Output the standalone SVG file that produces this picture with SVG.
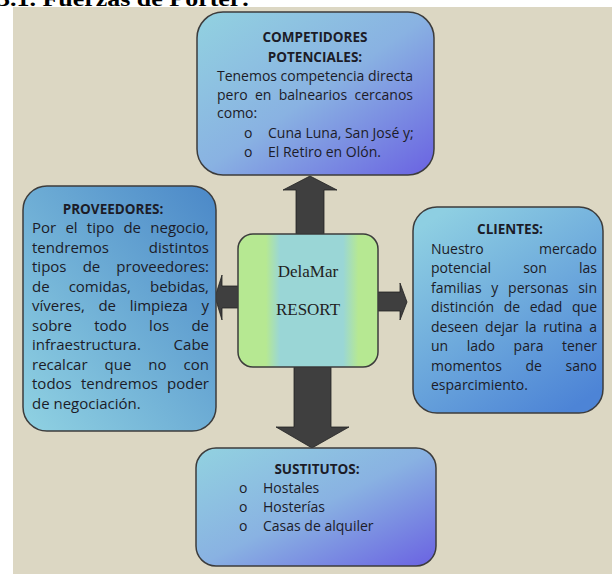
<svg xmlns="http://www.w3.org/2000/svg" width="612" height="574" viewBox="0 0 612 574">
<defs>
<linearGradient id="gPurple" x1="0" y1="0" x2="1" y2="1">
<stop offset="0" stop-color="#92d2e0"/>
<stop offset="0.5" stop-color="#89b2e2"/>
<stop offset="1" stop-color="#6a62e2"/>
</linearGradient>
<linearGradient id="gLeft" x1="0" y1="1" x2="1" y2="0">
<stop offset="0" stop-color="#90d2e2"/>
<stop offset="1" stop-color="#4b88c8"/>
</linearGradient>
<linearGradient id="gRight" x1="0.2" y1="0" x2="0.8" y2="1">
<stop offset="0" stop-color="#8ecfe2"/>
<stop offset="1" stop-color="#4d84d6"/>
</linearGradient>
<linearGradient id="gCenter" x1="0" y1="0" x2="1" y2="0">
<stop offset="0" stop-color="#b6e892"/>
<stop offset="0.2" stop-color="#b6e892"/>
<stop offset="0.3" stop-color="#9ad6d6"/>
<stop offset="0.75" stop-color="#9ad6d6"/>
<stop offset="0.86" stop-color="#b6e892"/>
<stop offset="1" stop-color="#b6e892"/>
</linearGradient>
</defs>
<style>
.box{stroke:#3c3c3c;stroke-width:1.5}
.t{font-family:"Open Sans","Liberation Sans",sans-serif;font-size:14px;fill:#1c1c28}
.l{font-size:15px}
.b{font-weight:bold;text-anchor:middle;font-size:13.5px}
.arrow{fill:#3f3f3f;stroke:#222;stroke-width:0.8}
.logo{font-family:"Liberation Serif",serif;font-size:17px;fill:#222;text-anchor:middle}
</style>
<rect x="0" y="0" width="612" height="574" fill="#ffffff"/>
<rect x="13" y="7" width="599" height="567" fill="#dcd7c3"/>
<text x="-3" y="6" font-family="Liberation Serif,serif" font-weight="bold" font-size="22" textLength="253" lengthAdjust="spacingAndGlyphs" fill="#000">3.1. Fuerzas de Porter:</text>

<g id="connectors">
<polygon class="arrow" points="296,234 296,190 283,190 310,176 337,190 324,190 324,234"/>
<polygon class="arrow" points="294,367 294,427 276,427 312,448 349,427 331,427 331,367"/>
<polygon class="arrow" points="239,286 222,286 222,275 215,297 222,320 222,308 239,308"/>
<polygon class="arrow" points="377,292 400,292 400,283 407,302 400,320 400,311 377,311"/>
</g>

<g id="competidores">
<rect class="box" x="197" y="12" width="237" height="163" rx="26" fill="url(#gPurple)"/>
<text class="t b" x="315" y="42">COMPETIDORES</text>
<text class="t b" x="315" y="61.5">POTENCIALES:</text>
<text class="t" x="217" y="80.5" textLength="196" lengthAdjust="spacing">Tenemos competencia directa</text>
<text class="t" x="217" y="99.5" word-spacing="3.7" textLength="196" lengthAdjust="spacing">pero en balnearios cercanos</text>
<text class="t" x="217" y="118">como:</text>
<text class="t" x="244" y="137.5">o</text>
<text class="t" x="268" y="137.5">Cuna Luna, San José y;</text>
<text class="t" x="244" y="157">o</text>
<text class="t" x="268" y="157">El Retiro en Olón.</text>
</g>

<g id="proveedores">
<rect class="box" x="23" y="186" width="193" height="245" rx="24" fill="url(#gLeft)"/>
<text class="t b" x="113" y="213.5" font-size="14.5">PROVEEDORES:</text>
<text class="t l" x="32" y="233" word-spacing="5.3" textLength="177" lengthAdjust="spacing">Por el tipo de negocio,</text>
<text class="t l" x="32" y="252.5" word-spacing="36" textLength="177" lengthAdjust="spacing">tendremos distintos</text>
<text class="t l" x="32" y="272" word-spacing="12.2" textLength="177" lengthAdjust="spacing">tipos de proveedores:</text>
<text class="t l" x="32" y="291.5" word-spacing="15.2" textLength="177" lengthAdjust="spacing">de comidas, bebidas,</text>
<text class="t l" x="32" y="311" word-spacing="9.7" textLength="177" lengthAdjust="spacing">víveres, de limpieza y</text>
<text class="t l" x="32" y="330.5" word-spacing="18.4" textLength="177" lengthAdjust="spacing">sobre todo los de</text>
<text class="t l" x="32" y="350" word-spacing="28.9" textLength="177" lengthAdjust="spacing">infraestructura. Cabe</text>
<text class="t l" x="32" y="369.5" word-spacing="13.1" textLength="177" lengthAdjust="spacing">recalcar que no con</text>
<text class="t l" x="32" y="389" word-spacing="5.3" textLength="177" lengthAdjust="spacing">todos tendremos poder</text>
<text class="t l" x="32" y="408.5">de negociación.</text>
</g>

<g id="clientes">
<rect class="box" x="413" y="207" width="190" height="206" rx="24" fill="url(#gRight)"/>
<text class="t b" x="510" y="234">CLIENTES:</text>
<text class="t" x="431" y="253.5" word-spacing="51.8" textLength="166" lengthAdjust="spacing">Nuestro mercado</text>
<text class="t" x="431" y="273" word-spacing="28.5" textLength="166" lengthAdjust="spacing">potencial son las</text>
<text class="t" x="431" y="292.5" word-spacing="6.1" textLength="166" lengthAdjust="spacing">familias y personas sin</text>
<text class="t" x="431" y="312" word-spacing="5.9" textLength="166" lengthAdjust="spacing">distinción de edad que</text>
<text class="t" x="431" y="331.5" word-spacing="3.1" textLength="166" lengthAdjust="spacing">deseen dejar la rutina a</text>
<text class="t" x="431" y="351" word-spacing="14.9" textLength="166" lengthAdjust="spacing">un lado para tener</text>
<text class="t" x="431" y="370.5" word-spacing="19.9" textLength="166" lengthAdjust="spacing">momentos de sano</text>
<text class="t" x="431" y="390">esparcimiento.</text>
</g>

<g id="sustitutos">
<rect class="box" x="196" y="448" width="240" height="118" rx="20" fill="url(#gPurple)"/>
<text class="t b" x="317" y="473.5">SUSTITUTOS:</text>
<text class="t" x="239" y="493">o</text>
<text class="t" x="263" y="493">Hostales</text>
<text class="t" x="239" y="512">o</text>
<text class="t" x="263" y="512">Hosterías</text>
<text class="t" x="239" y="531">o</text>
<text class="t" x="263" y="531">Casas de alquiler</text>
</g>

<g id="delamar">
<rect class="box" x="238" y="234" width="140" height="133" rx="15" fill="url(#gCenter)"/>
<text class="logo" x="308" y="277">DelaMar</text>
<text class="logo" x="308" y="315">RESORT</text>
</g>
</svg>
